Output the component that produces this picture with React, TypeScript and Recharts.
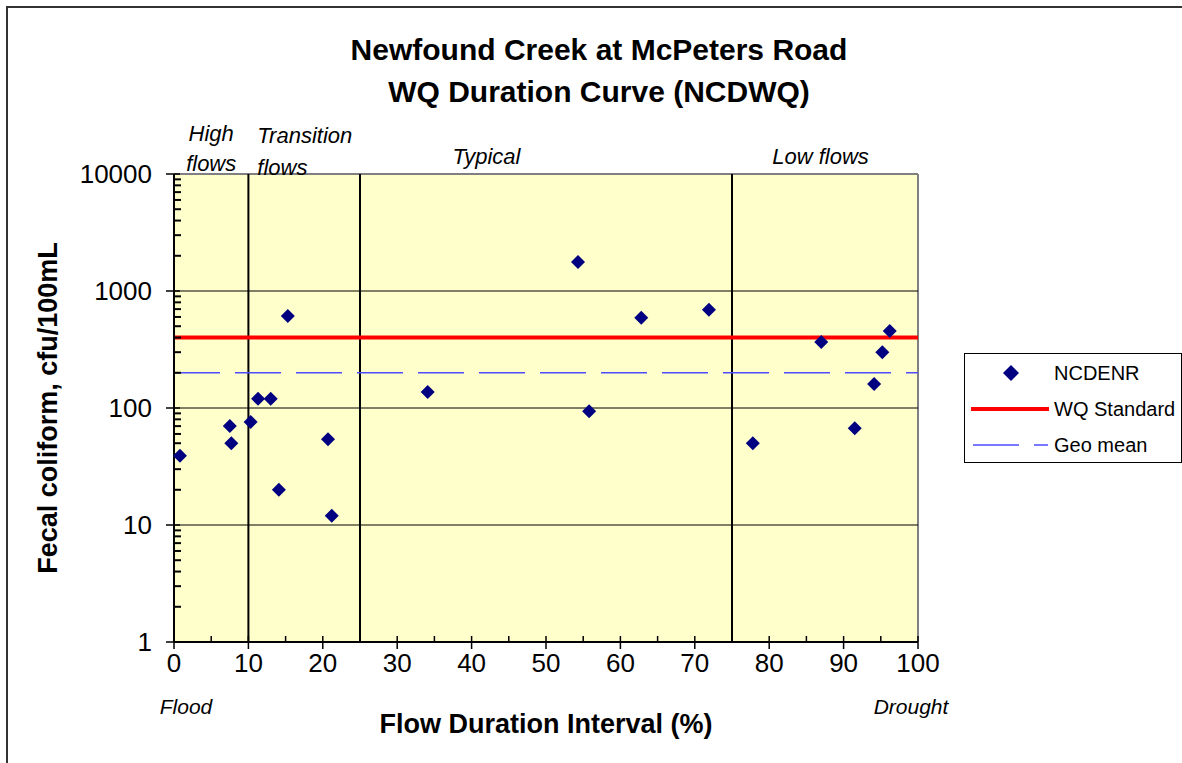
import React from 'react';
import { ComposedChart, Scatter, Line, XAxis, YAxis, ReferenceLine, CartesianGrid } from 'recharts';

// flow duration interval (%) and fecal coliform (cfu/100mL) for each NCDENR sample
const flowInterval = [0.8, 7.5, 7.7, 10.3, 11.3, 13.0, 14.1, 15.3, 20.7, 21.2, 34.1, 54.3, 55.8, 62.8, 71.9, 77.8, 87.0, 91.5, 94.1, 95.2, 96.2];
const fecalColiform = [39, 70, 50, 76, 120, 120, 20, 610, 54, 12, 137, 1770, 94, 590, 690, 50, 366, 67, 160, 300, 455];

const wqStandard = 400;
const geoMean = 200;

const xTicks = [0, 5, 10, 15, 20, 25, 30, 35, 40, 45, 50, 55, 60, 65, 70, 75, 80, 85, 90, 95, 100];
const yMajorTicks = [1, 10, 100, 1000, 10000];
const yMinorSteps = [2, 3, 4, 5, 6, 7, 8, 9];
const gridValues = [10, 100, 1000];
const zoneBreaks = [10, 25, 75];

const zoneLabels = [
  { x: 5, anchor: 'middle', lines: ['High', 'flows'], dy: [-41, -11] },
  { x: 11.2, anchor: 'start', lines: ['Transition', 'flows'], dy: [-39, -7] },
  { x: 42, anchor: 'middle', lines: ['Typical'], dy: [-18] },
  { x: 86.9, anchor: 'middle', lines: ['Low flows'], dy: [-18] },
];

const FONT = '"Liberation Sans", Arial, sans-serif';

const samples = flowInterval.map((x, i) => ({ x, y: fecalColiform[i] }));
const standardLine = [{ x: 0, y: wqStandard }, { x: 100, y: wqStandard }];
const geoMeanLine = [{ x: 0, y: geoMean }, { x: 100, y: geoMean }];

// log minor tick positions (values), drawn as short marks at the left edge of the plot
const minorTickMarks: { x: number; y: number }[] = [];
yMajorTicks.slice(0, -1).forEach((t) => yMinorSteps.forEach((s) => minorTickMarks.push({ x: 0, y: t * s })));

const Diamond = (props: any) => {
  const { cx, cy } = props;
  if (cx == null || cy == null) return null;
  const r = 7;
  return <polygon points={`${cx},${cy - r} ${cx + r},${cy} ${cx},${cy + r} ${cx - r},${cy}`} fill="#000080" />;
};

const MinorTick = (props: any) => {
  const { cx, cy } = props;
  if (cx == null || cy == null) return null;
  return <path d={`M${cx},${cy}H${cx + 7}`} stroke="#000" strokeWidth={2} fill="none" />;
};

const XTick = (props: any) => {
  const { x, y, payload } = props;
  const v = payload.value;
  const major = v % 10 === 0;
  return (
    <g>
      <line x1={x} x2={x} y1={y - 6} y2={major ? y + 7 : y} stroke="#000" strokeWidth={1.5} />
      {major && (
        <text x={x} y={y + 21} textAnchor="middle" dominantBaseline="central" fontSize={26} fontFamily={FONT} fill="#000">
          {v}
        </text>
      )}
      {v === 0 && (
        <text x={x + 12} y={y + 64} textAnchor="middle" dominantBaseline="central" fontSize={21} fontStyle="italic" fontFamily={FONT} fill="#000">
          Flood
        </text>
      )}
      {v === 100 && (
        <text x={x - 7} y={y + 64} textAnchor="middle" dominantBaseline="central" fontSize={21} fontStyle="italic" fontFamily={FONT} fill="#000">
          Drought
        </text>
      )}
    </g>
  );
};

const YTick = (props: any) => {
  const { x, y, payload } = props;
  const v = payload.value;
  return (
    <g>
      <line x1={x - 8} x2={x + 6} y1={y} y2={y} stroke="#000" strokeWidth={1.5} />
      <text x={x - 22} y={y} textAnchor="end" dominantBaseline="central" fontSize={26} fontFamily={FONT} fill="#000">
        {v}
      </text>
    </g>
  );
};

const ZoneLabel = (props: any) => {
  const { viewBox, lines, dy, anchor } = props;
  if (!viewBox) return null;
  return (
    <g>
      {lines.map((t: string, i: number) => (
        <text key={t + i} x={viewBox.x} y={viewBox.y + dy[i]} textAnchor={anchor} dominantBaseline="central" fontSize={22} fontStyle="italic" fontFamily={FONT} fill="#000">
          {t}
        </text>
      ))}
    </g>
  );
};

const LegendBox = () => (
  <div style={{ position: 'absolute', left: 964, top: 353, width: 216, height: 108, border: '1px solid #000', background: '#fff' }}>
    <svg width={216} height={108}>
      <polygon points="46,11 54,19 46,27 38,19" fill="#000080" />
      <text x={89} y={19} dominantBaseline="central" fontSize={20} fontFamily={FONT}>NCDENR</text>
      <line x1={6} x2={84} y1={55} y2={55} stroke="#FF0000" strokeWidth={4} />
      <text x={89} y={55} dominantBaseline="central" fontSize={20} fontFamily={FONT}>WQ Standard</text>
      <line x1={8} x2={54} y1={91} y2={91} stroke="#4D4DFF" strokeWidth={1.5} />
      <line x1={69} x2={83} y1={91} y2={91} stroke="#4D4DFF" strokeWidth={1.5} />
      <text x={89} y={91} dominantBaseline="central" fontSize={20} fontFamily={FONT}>Geo mean</text>
    </svg>
  </div>
);

const App = () => {
  return (
    <div style={{ position: 'absolute', left: 0, top: 0, width: 1182, height: 763, overflow: 'hidden', background: '#fff', fontFamily: FONT }}>
      <div style={{ position: 'absolute', left: 6, top: 6, width: 1300, height: 900, borderLeft: '2px solid #333', borderTop: '2px solid #333' }} />
      <div style={{ position: 'absolute', left: 0, top: 29, width: 1198, textAlign: 'center', fontSize: 30, fontWeight: 'bold', lineHeight: '42px', color: '#000' }}>
        <div>Newfound Creek at McPeters Road</div>
        <div>WQ Duration Curve (NCDWQ)</div>
      </div>
      <div style={{ position: 'absolute', left: 0, top: 0 }}>
        <ComposedChart width={1182} height={763} margin={{ top: 174, right: 264, bottom: 0, left: 0 }}>
          <CartesianGrid horizontal={false} vertical={false} fill="#FFFFCC" fillOpacity={1} />
          <ReferenceLine y={10000} stroke="#808080" strokeWidth={2} />
          <ReferenceLine x={100} stroke="#808080" strokeWidth={2} />
          {gridValues.map((g) => (
            <ReferenceLine key={'g' + g} y={g} stroke="#000" strokeWidth={1} />
          ))}
          {zoneBreaks.map((b) => (
            <ReferenceLine key={'b' + b} x={b} stroke="#000" strokeWidth={2} />
          ))}
          {zoneLabels.map((z) => (
            <ReferenceLine key={'z' + z.x} x={z.x} stroke="none" label={<ZoneLabel lines={z.lines} dy={z.dy} anchor={z.anchor} />} />
          ))}
          <XAxis
            dataKey="x"
            type="number"
            domain={[0, 100]}
            ticks={xTicks}
            interval={0}
            tickSize={0}
            tickMargin={0}
            height={121}
            axisLine={{ stroke: '#000', strokeWidth: 2 }}
            tick={<XTick />}
            label={(p: any) => (
              <text x={p.viewBox.x + p.viewBox.width / 2} y={p.viewBox.y + 82} textAnchor="middle" dominantBaseline="central" fontSize={27} fontWeight="bold" fontFamily={FONT} fill="#000">
                Flow Duration Interval (%)
              </text>
            )}
          />
          <YAxis
            dataKey="y"
            type="number"
            scale="log"
            domain={[1, 10000]}
            ticks={yMajorTicks}
            interval={0}
            tickSize={0}
            tickMargin={0}
            width={174}
            axisLine={{ stroke: '#000', strokeWidth: 2 }}
            tick={<YTick />}
            label={(p: any) => {
              const cx = 48;
              const cy = p.viewBox.y + p.viewBox.height / 2;
              return (
                <text x={cx} y={cy} transform={`rotate(-90 ${cx} ${cy})`} textAnchor="middle" dominantBaseline="central" fontSize={27} fontWeight="bold" fontFamily={FONT} fill="#000">
                  Fecal coliform, cfu/100mL
                </text>
              );
            }}
          />
          <Line data={geoMeanLine} dataKey="y" stroke="#4D4DFF" strokeWidth={1.5} strokeDasharray="46 15" dot={false} isAnimationActive={false} name="Geo mean" />
          <Line data={standardLine} dataKey="y" stroke="#FF0000" strokeWidth={4} dot={false} isAnimationActive={false} name="WQ Standard" />
          <Scatter data={minorTickMarks} dataKey="y" shape={<MinorTick />} isAnimationActive={false} legendType="none" />
          <Scatter data={samples} dataKey="y" shape={<Diamond />} isAnimationActive={false} name="NCDENR" />
        </ComposedChart>
      </div>
      <LegendBox />
    </div>
  );
};

export default App;
